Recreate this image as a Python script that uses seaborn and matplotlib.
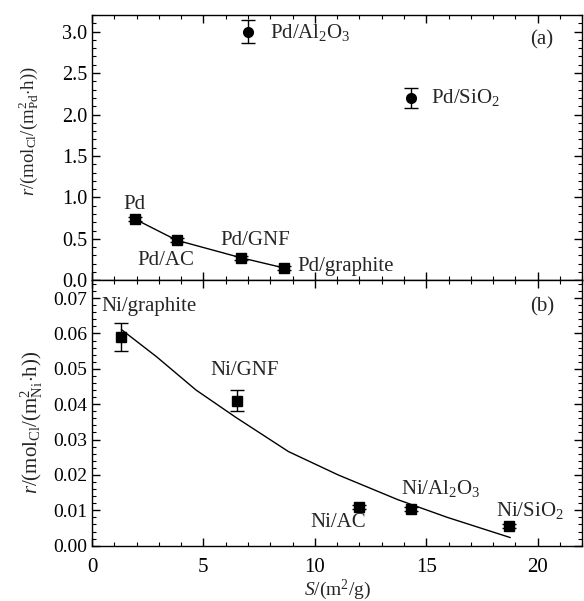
import matplotlib
matplotlib.use("Agg")
import matplotlib.pyplot as plt
import numpy as np
import pandas as pd
import seaborn as sns
from matplotlib.ticker import MultipleLocator, FormatStrFormatter

# panel (a): Pd catalysts
pd_names = ["Pd", "Pd/AC", "Pd/GNF", "Pd/graphite", "Pd/Al$_2$O$_3$", "Pd/SiO$_2$"]
pd_s = [1.92, 3.80, 6.67, 8.63, 7.01, 14.32]
pd_r = [0.74, 0.484, 0.274, 0.149, 3.00, 2.20]
pd_err = [0.025, 0.025, 0.025, 0.025, 0.14, 0.12]
pd_shape = ["s", "s", "s", "s", "o", "o"]
pd_fit_s = [1.92, 3.80, 6.67, 8.63]
pd_fit_r = [0.74, 0.484, 0.274, 0.149]

# panel (b): Ni catalysts
ni_names = ["Ni/graphite", "Ni/GNF", "Ni/AC", "Ni/Al$_2$O$_3$", "Ni/SiO$_2$"]
ni_s = [1.29, 6.49, 11.99, 14.32, 18.70]
ni_r = [0.0590, 0.0410, 0.0110, 0.0103, 0.0056]
ni_err = [0.0039, 0.0029, 0.0006, 0.0005, 0.0005]
ni_fit_s = [1.32, 2.90, 4.67, 6.45, 8.82, 11.05, 13.73, 15.95, 18.77]
ni_fit_r = [0.0611, 0.0534, 0.0440, 0.0363, 0.0266, 0.0200, 0.0130, 0.0080, 0.0023]

# label anchors (data coords) and alignment
pd_lab_pos = [(1.92, 0.91, "center"), (3.33, 0.24, "center"), (7.34, 0.48, "center"),
              (9.2, 0.17, "left"), (8.0, 2.99, "left"), (15.2, 2.20, "left")]
ni_lab_pos = [(0.4, 0.0675, "left"), (6.85, 0.0496, "center"), (11.05, 0.0065, "center"),
              (15.66, 0.0162, "center"), (19.67, 0.0099, "center")]

sns.set_theme(style="ticks")
plt.rcParams["font.family"] = ["Liberation Serif", "DejaVu Serif"]
plt.rcParams["mathtext.fontset"] = "custom"
plt.rcParams["mathtext.rm"] = "Liberation Serif"
plt.rcParams["mathtext.it"] = "Liberation Serif:italic"
plt.rcParams["axes.linewidth"] = 1.0

fig, (ax1, ax2) = plt.subplots(2, 1, figsize=(5.84, 6.01), dpi=100, sharex=True)
fig.subplots_adjust(left=0.1575, right=0.997, top=0.975, bottom=0.092, hspace=0)

fs = 15

# ---- panel (a)
sns.lineplot(x=pd_fit_s, y=pd_fit_r, ax=ax1, color="black", lw=1.0, sort=False)
df_a = pd.DataFrame({"s": pd_s, "r": pd_r, "shape": pd_shape})
for shape, ms in [("s", 7), ("o", 7)]:
    sub = df_a[df_a["shape"] == shape]
    ax1.errorbar(sub["s"], sub["r"], yerr=np.array(pd_err)[sub.index], fmt=shape,
                 color="black", ms=ms, capsize=5, elinewidth=1.0, capthick=1.0)
for name, (x, y, ha) in zip(pd_names, pd_lab_pos):
    ax1.text(x, y, name, ha=ha, va="center", fontsize=fs)
ax1.text(20.2, 2.90, "(a)", ha="center", va="center", fontsize=fs)
ax1.set_ylim(0, 3.2)
ax1.yaxis.set_major_locator(MultipleLocator(0.5))
ax1.yaxis.set_minor_locator(MultipleLocator(0.1))
ax1.yaxis.set_major_formatter(FormatStrFormatter("%.1f"))
ax1.set_ylabel(r"$\it{r}$/(mol$_{\rm Cl}$/(m$^{2}_{\rm Pd}$$\cdot$h))", fontsize=13.5)
ax1.yaxis.set_label_coords(-0.105, 0.564)
ax1.tick_params(axis="y", labelsize=14.5)

# ---- panel (b)
sns.lineplot(x=ni_fit_s, y=ni_fit_r, ax=ax2, color="black", lw=1.0, sort=False)
ax2.errorbar(ni_s, ni_r, yerr=ni_err, fmt="s", color="black", ms=7, capsize=5,
             elinewidth=1.0, capthick=1.0)
for name, (x, y, ha) in zip(ni_names, ni_lab_pos):
    ax2.text(x, y, name, ha=ha, va="center", fontsize=fs)
ax2.text(20.2, 0.0675, "(b)", ha="center", va="center", fontsize=fs)
ax2.set_ylim(0, 0.075)
ax2.yaxis.set_major_locator(MultipleLocator(0.01))
ax2.yaxis.set_minor_locator(MultipleLocator(0.002))
ax2.yaxis.set_major_formatter(FormatStrFormatter("%.2f"))
ax2.set_ylabel(r"$\it{r}$/(mol$_{\rm Cl}$/(m$^{2}_{\rm Ni}$$\cdot$h))", fontsize=15)
ax2.yaxis.set_label_coords(-0.095, 0.466)
ax2.tick_params(axis="y", labelsize=14)
ax2.tick_params(axis="x", labelsize=15, pad=9)
ax2.set_xlabel(r"$\it{S}$/(m$^2$/g)", fontsize=14, labelpad=0)

ax2.set_xlim(0, 22)
ax2.xaxis.set_major_locator(MultipleLocator(5))
ax2.xaxis.set_minor_locator(MultipleLocator(1))

for ax in (ax1, ax2):
    for sp in ax.spines.values():
        sp.set_visible(True)
        sp.set_color("black")
    ax.tick_params(which="both", direction="in", top=True, right=True, colors="black")
    ax.tick_params(which="major", length=6, width=1.0)
    ax.tick_params(which="minor", length=3, width=0.8)
    ax.grid(False)

fig.savefig("out.png", dpi=100)
